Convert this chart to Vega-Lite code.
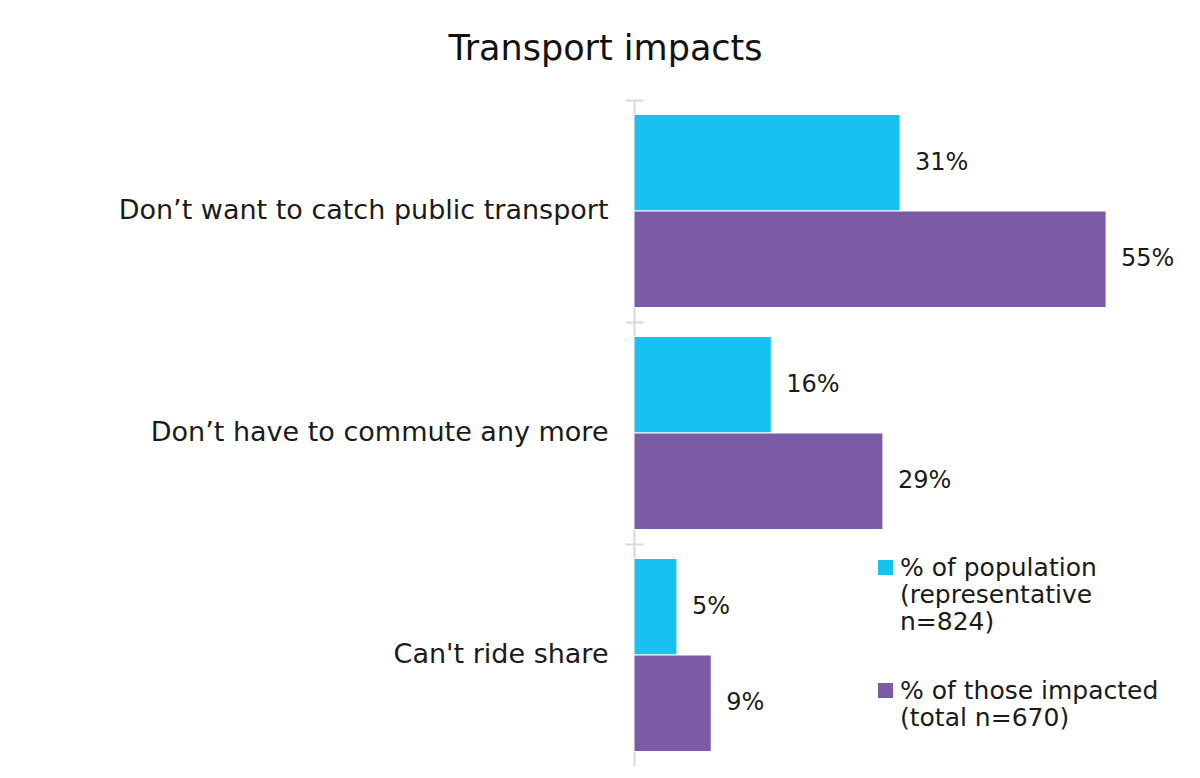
{
  "$schema": "https://vega.github.io/schema/vega-lite/v6.json",
  "autosize": {"type": "none"},
  "width": 515,
  "height": 666,
  "padding": {"left": 634, "top": 100, "right": 51, "bottom": 12},
  "background": "white",
  "config": {
    "view": {"stroke": null},
    "font": "DejaVu Sans"
  },
  "title": {
    "text": "Transport impacts",
    "fontSize": 35,
    "fontWeight": "normal",
    "color": "#111111",
    "anchor": "middle",
    "frame": "group",
    "dx": -286,
    "baseline": "alphabetic",
    "offset": 4
  },
  "data": {
    "values": [
      {"category": "Don’t want to catch public transport", "series": "pop", "value": 0.31},
      {"category": "Don’t want to catch public transport", "series": "imp", "value": 0.55},
      {"category": "Don’t have to commute any more", "series": "pop", "value": 0.16},
      {"category": "Don’t have to commute any more", "series": "imp", "value": 0.29},
      {"category": "Can't ride share", "series": "pop", "value": 0.05},
      {"category": "Can't ride share", "series": "imp", "value": 0.09}
    ]
  },
  "encoding": {
    "y": {
      "field": "category",
      "type": "nominal",
      "sort": null,
      "scale": {"paddingInner": 0, "paddingOuter": 0},
      "title": null
    },
    "yOffset": {
      "field": "series",
      "sort": ["pop", "imp"],
      "scale": {"paddingInner": 0, "paddingOuter": 0.15}
    },
    "x": {
      "field": "value",
      "type": "quantitative",
      "scale": {"domain": [0, 0.6]},
      "axis": null
    }
  },
  "layer": [
    {
      "mark": {"type": "bar", "stroke": "white", "strokeWidth": 1},
      "encoding": {
        "y": {
          "field": "category",
          "type": "nominal",
          "sort": null,
          "scale": {"paddingInner": 0, "paddingOuter": 0},
          "title": null,
          "axis": {
            "orient": "left",
            "bandPosition": 0,
            "domainColor": "#d9d9d9",
            "domainWidth": 2,
            "tickColor": "#d9d9d9",
            "tickWidth": 2,
            "tickSize": 9,
            "labelPadding": 17,
            "labelFontSize": 27,
            "labelColor": "#1a1a1a",
            "labelLimit": 600,
            "labelBound": false
          }
        },
        "color": {
          "field": "series",
          "type": "nominal",
          "sort": ["pop", "imp"],
          "scale": {"domain": ["pop", "imp"], "range": ["#17C1F2", "#7B5BA5"]},
          "legend": {
            "orient": "none",
            "legendX": 239,
            "legendY": 443,
            "title": null,
            "symbolType": "M-1,0.6H1V2.6H-1Z",
            "symbolSize": 225,
            "symbolStrokeWidth": 0,
            "labelFontSize": 25,
            "labelColor": "#1a1a1a",
            "labelLimit": 400,
            "labelOffset": 2,
            "rowPadding": 31,
            "labelBaseline": "top",
            "labelExpr": "datum.label == 'pop' ? ['% of population', '(representative', 'n=824)'] : ['% of those impacted', '(total n=670)']"
          }
        }
      }
    },
    {
      "mark": {"type": "text", "align": "left", "baseline": "middle", "dx": 15, "fontSize": 24, "color": "#1a1a1a"},
      "encoding": {
        "y": {
          "field": "category",
          "type": "nominal",
          "sort": null,
          "scale": {"paddingInner": 0, "paddingOuter": 0},
          "title": null,
          "axis": {
            "orient": "left",
            "bandPosition": 0,
            "domain": false,
            "labels": false,
            "tickColor": "#d9d9d9",
            "tickWidth": 2,
            "tickSize": -9
          }
        },
        "text": {"field": "value", "type": "quantitative", "format": ".0%"}
      }
    }
  ],
  "resolve": {"axis": {"y": "independent"}}
}
